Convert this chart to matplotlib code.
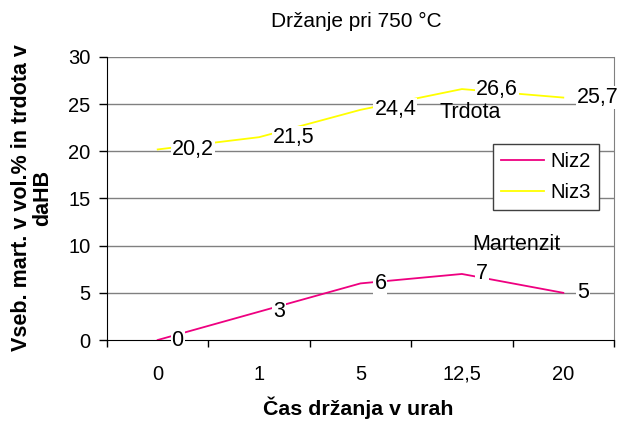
import matplotlib
matplotlib.use("Agg")
import matplotlib.pyplot as plt

categories = ["0", "1", "5", "12,5", "20"]
niz2 = [0, 3, 6, 7, 5]
niz3 = [20.2, 21.5, 24.4, 26.6, 25.7]
niz2_labels = ["0", "3", "6", "7", "5"]
niz3_labels = ["20,2", "21,5", "24,4", "26,6", "25,7"]
yticks = [0, 5, 10, 15, 20, 25, 30]

plt.rcParams['font.family'] = ['Liberation Sans', 'DejaVu Sans']

W, H = 623, 424
fig = plt.figure(figsize=(W / 100, H / 100), dpi=100)
fig.patch.set_facecolor('white')
ax = fig.add_axes([107 / W, (H - 340) / H, 507 / W, 283 / H])

x = list(range(len(categories)))
c2 = '#EE0080'
c3 = '#FFFF00'

ax.set_xlim(-0.5, len(categories) - 0.5)
ax.set_ylim(0, 30)
ax.set_yticks(yticks)
ax.set_yticklabels([str(v) for v in yticks], fontsize=14.5)
ax.set_xticks([i - 0.5 for i in range(len(categories) + 1)])
ax.set_xticklabels([])
ax.set_xticks(x, minor=True)
ax.set_xticklabels(categories, minor=True, fontsize=14.5)
ax.tick_params(axis='x', which='minor', length=0, pad=18)
ax.tick_params(axis='x', which='major', length=5, width=1, direction='out')
ax.tick_params(axis='y', length=6, width=1, direction='out', pad=6)

for v in yticks[1:]:
    ax.axhline(v, color='#808080', lw=1, zorder=1)

ax.spines['top'].set_visible(False)
ax.spines['right'].set_color('#808080')
for s in ['left', 'bottom']:
    ax.spines[s].set_color('black')

l2, = ax.plot(x, niz2, color=c2, lw=1.3, zorder=3, label='Niz2')
l3, = ax.plot(x, niz3, color=c3, lw=1.3, zorder=3, label='Niz3')

for xs, ys, labs in [(x, niz2, niz2_labels), (x, niz3, niz3_labels)]:
    for xi, yi, lab in zip(xs, ys, labs):
        ax.annotate(lab, (xi, yi), xytext=(10, 0), textcoords='offset points',
                    ha='left', va='center', fontsize=15.5, zorder=5,
                    bbox=dict(boxstyle='square,pad=0.05', fc='white', ec='none'),
                    annotation_clip=False)

ax.text(3.08, 24.1, "Trdota", fontsize=15.5, ha='center', va='center', zorder=5)
ax.text(3.54, 10.15, "Martenzit", fontsize=15.5, ha='center', va='center', zorder=5)

leg = ax.legend(handles=[l2, l3], loc='upper left',
                bbox_to_anchor=((493 - 107) / 507, (340 - 144) / 283),
                fontsize=14.6, frameon=True, fancybox=False, borderpad=0.4,
                handlelength=2.1, handletextpad=0.35, labelspacing=0.6,
                borderaxespad=0)
leg.get_frame().set_edgecolor('#404040')
leg.get_frame().set_linewidth(1)
leg.get_frame().set_facecolor('white')
leg.get_frame().set_alpha(1)
leg.set_zorder(6)

fig.text(356 / W, 1 - 27 / H, "Držanje pri 750 °C", ha='center', va='baseline', fontsize=15)
fig.text(358 / W, 1 - 415 / H, "Čas držanja v urah", ha='center', va='baseline',
         fontsize=15.4, fontweight='bold')
fig.text(32 / W, 1 - 198 / H, "Vseb. mart. v vol.% in trdota v\ndaHB", ha='center',
         va='center', rotation=90, fontsize=15.5, fontweight='bold', linespacing=1.0)

fig.savefig('out.png', dpi=100, facecolor='white')
